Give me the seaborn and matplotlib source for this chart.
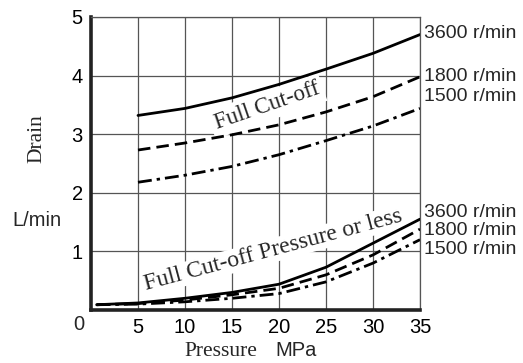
import matplotlib
matplotlib.use("Agg")
import matplotlib.pyplot as plt
import seaborn as sns
import pandas as pd

# Data
x_upper = [5, 10, 15, 20, 25, 30, 35]
full_3600 = [3.32, 3.44, 3.62, 3.85, 4.11, 4.38, 4.70]
full_1800 = [2.73, 2.85, 2.99, 3.16, 3.38, 3.64, 3.98]
full_1500 = [2.18, 2.30, 2.45, 2.65, 2.89, 3.14, 3.44]

x_lower = [0.6, 5, 10, 15, 20, 25, 30, 35]
less_3600 = [0.09, 0.12, 0.20, 0.30, 0.44, 0.73, 1.14, 1.55]
less_1800 = [0.09, 0.11, 0.17, 0.26, 0.37, 0.60, 0.94, 1.38]
less_1500 = [0.09, 0.10, 0.14, 0.20, 0.28, 0.48, 0.80, 1.20]

x_ticks = [5, 10, 15, 20, 25, 30, 35]
y_ticks = [1, 2, 3, 4, 5]
speed_labels = ["3600 r/min", "1800 r/min", "1500 r/min"]

sns.set_theme(style="white")
plt.rcParams['font.family'] = ['Liberation Sans', 'DejaVu Sans']

fig = plt.figure(figsize=(5.23, 3.63), dpi=100)
ax = fig.add_axes([91/523, 53/363, 329/523, 293/363])

styles = [dict(linestyle='-'), dict(dashes=(4.5, 2.2)), dict(dashes=(5, 1.8, 1.2, 1.8))]
for ys, st in zip([full_3600, full_1800, full_1500], styles):
    df = pd.DataFrame({"p": x_upper, "q": ys})
    sns.lineplot(data=df, x="p", y="q", ax=ax, color='black', lw=2.0, zorder=3, **st)
for ys, st in zip([less_3600, less_1800, less_1500], styles):
    df = pd.DataFrame({"p": x_lower, "q": ys})
    sns.lineplot(data=df, x="p", y="q", ax=ax, color='black', lw=2.0, zorder=3, **st)

ax.set_xlim(0, 35)
ax.set_ylim(0, 5)
ax.set_xticks(x_ticks)
ax.set_yticks(y_ticks)
ax.set_xticklabels([str(v) for v in x_ticks], fontsize=14.5)
ax.set_yticklabels([str(v) for v in y_ticks], fontsize=14.5)
ax.tick_params(axis='both', length=0, pad=6, colors='black')
ax.grid(True, color='#555555', lw=0.9)
ax.set_axisbelow(True)
ax.set_xlabel("")
ax.set_ylabel("")
for s in ['top', 'right']:
    ax.spines[s].set_color('#555555')
    ax.spines[s].set_linewidth(0.9)
for s in ['left', 'bottom']:
    ax.spines[s].set_color('#222222')
    ax.spines[s].set_linewidth(2.6)

# origin label
fig.text(79/523, 1 - 325/363, "0", fontsize=14.5, ha='center', va='center')

# axis labels
fig.text(37/523, 1 - 139/363, "Drain", family='Liberation Serif', fontsize=15.5,
         rotation=90, ha='center', va='center')
fig.text(37/523, 1 - 220/363, "L/min", fontsize=14.5, ha='center', va='center')
fig.text(257/523, 1 - 356/363, "Pressure", family='Liberation Serif', fontsize=15.5,
         ha='right', va='baseline')
fig.text(275/523, 1 - 356/363, "MPa", fontsize=14.5, ha='left', va='baseline')

# right-hand speed labels
for yv, lab in zip([4.72, 3.98, 3.65], speed_labels):
    ax.text(35.4, yv, lab, fontsize=14, ha='left', va='center', clip_on=False)
for yv, lab in zip([1.67, 1.35, 1.03], speed_labels):
    ax.text(35.4, yv, lab, fontsize=14, ha='left', va='center', clip_on=False)

# curve annotations (white backing hides grid but stays below the curves)
ax.text(18.7, 3.48, "Full Cut-off", family='Liberation Serif', fontsize=16.5,
        rotation=19, ha='center', va='center', zorder=2,
        bbox=dict(facecolor='white', edgecolor='none', pad=3))
ax.text(19.4, 1.02, "Full Cut-off Pressure or less", family='Liberation Serif', fontsize=17,
        rotation=15, ha='center', va='center', zorder=2,
        bbox=dict(facecolor='white', edgecolor='none', pad=1.0))

fig.savefig("out.png", dpi=100)
